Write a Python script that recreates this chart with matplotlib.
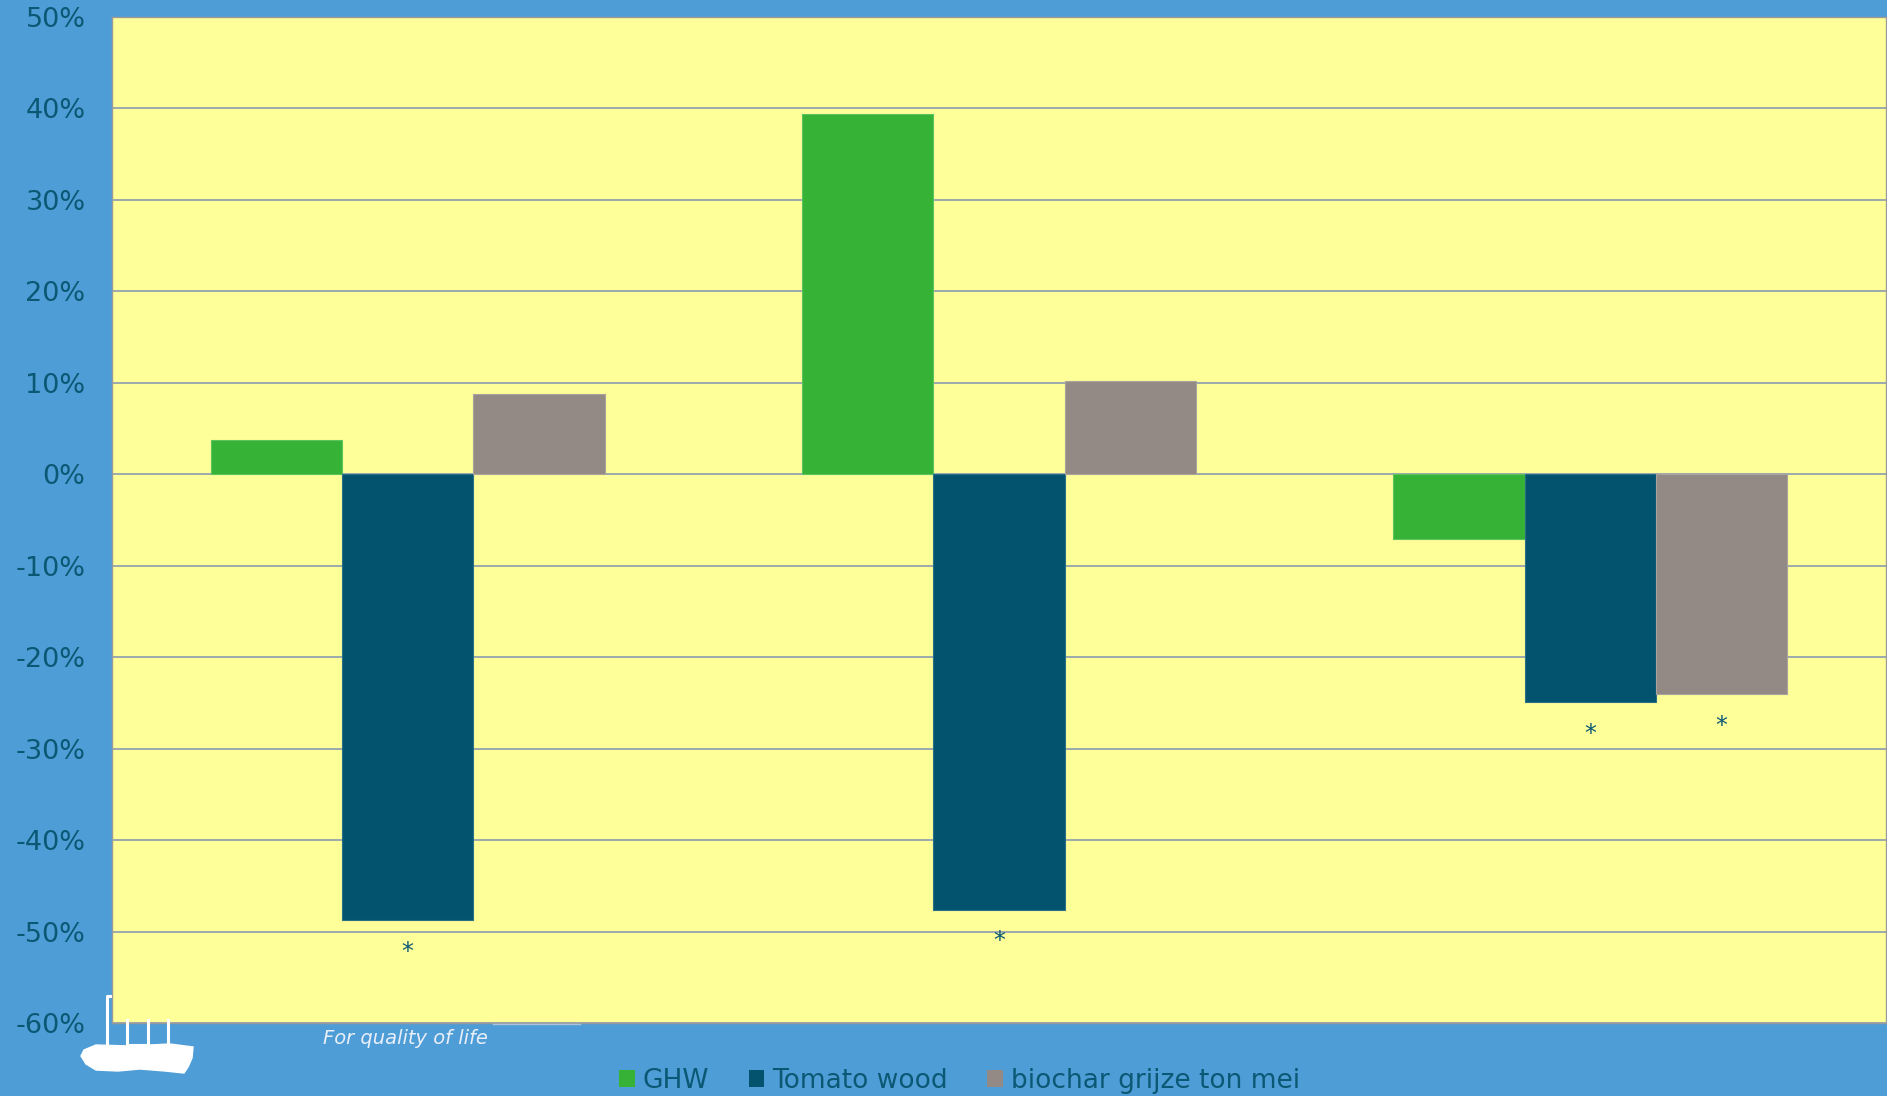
import matplotlib

matplotlib.use('Agg')
import matplotlib.pyplot as plt
import numpy as np
from matplotlib.patches import Polygon, Rectangle
from matplotlib.lines import Line2D

# data (percent change)
groups = ['1', '2', '3']
series = ['GHW', 'Tomato wood', 'biochar grijze ton mei']
ghw = [3.7, 39.4, -7.1]
tomato_wood = [-48.7, -47.6, -24.9]
biochar = [8.8, 10.2, -24.0]
# significance markers per series and group
signif = [
    [False, False, False],
    [True, True, True],
    [False, False, True],
]
yticks = list(range(-60, 51, 10))

colors = ['#36b236', '#03536f', '#948a85']
edge_colors = ['#5cc45c', '#2a6f86', '#a9a29d']
text_color = '#0b5874'
bg_color = '#4f9dd6'
plot_bg = '#ffff99'
grid_color = '#8a9bb0'

W, H = 1887, 1096
fig = plt.figure(figsize=(W / 100, H / 100), dpi=100, facecolor=bg_color)
ax = fig.add_axes([112 / W, 73 / H, 1774 / W, 1006 / H])
ax.set_facecolor(plot_bg)

x = np.arange(len(groups))
width = 0.222
values = [ghw, tomato_wood, biochar]
for i, (vals, name) in enumerate(zip(values, series)):
    pos = x + (i - 1) * width
    ax.bar(pos, vals, width, color=colors[i], edgecolor=edge_colors[i],
           linewidth=0.8, label=name, zorder=3)
    for j, v in enumerate(vals):
        if signif[i][j]:
            ax.annotate('*', xy=(pos[j], v), xytext=(0, -28),
                        textcoords='offset points', ha='center',
                        va='baseline', fontsize=17, color=text_color,
                        zorder=4)

ax.set_xlim(-0.5, len(groups) - 0.5)
ax.set_ylim(-60, 50)
ax.set_yticks(yticks)
ax.set_yticklabels([f'{t}%' for t in yticks], fontsize=19.5, color=text_color)
ax.tick_params(axis='y', length=0, pad=19)
ax.set_xticks([])
ax.yaxis.grid(True, color=grid_color, linewidth=1.2, zorder=1)
ax.set_axisbelow(True)
for side in ['left', 'top', 'bottom', 'right']:
    ax.spines[side].set_color('#9a9a9a')
    ax.spines[side].set_linewidth(1.0)

handles = [Rectangle((0, 0), 1, 1, facecolor=c, edgecolor='none') for c in colors]
fig.legend(handles, series, loc='center', bbox_to_anchor=(959.5 / W, 1 - 1081 / H),
           ncol=3, frameon=False, fontsize=19, labelcolor=text_color,
           handlelength=0.6, handleheight=0.6, handletextpad=0.3,
           columnspacing=1.5)

# logo and slogan in the lower left corner
fig.text(323 / W, 1 - 1039 / H, 'For quality of life', fontsize=14,
         style='italic', color='#e8eff8', ha='left', va='center')


def px(xp, yp):
    return (xp / W, 1 - yp / H)


blob = [px(84, 1050), px(96, 1045), px(130, 1046), px(170, 1044), px(193, 1047),
        px(192, 1058), px(188, 1067), px(184, 1073), px(165, 1071),
        px(140, 1069), px(118, 1071), px(96, 1070), px(86, 1064), px(81, 1056)]
fig.patches.append(Polygon(blob, closed=True, transform=fig.transFigure,
                           facecolor='white', edgecolor='white', zorder=0))
for xs, ys in [([110, 107, 107], [996, 996, 1050]),
               ([127, 127, 148, 148], [1020, 1045, 1045, 1020]),
               ([168, 168], [1020, 1050])]:
    fig.lines.append(Line2D([v / W for v in xs], [1 - v / H for v in ys],
                            transform=fig.transFigure, color='white',
                            linewidth=2.2, zorder=0))
fig.lines.append(Line2D([493 / W, 580 / W], [1 - 1024 / H, 1 - 1024 / H],
                        transform=fig.transFigure, color='#a9c3dd',
                        linewidth=1, zorder=0))

fig.savefig('out.png', dpi=100, facecolor=bg_color)
